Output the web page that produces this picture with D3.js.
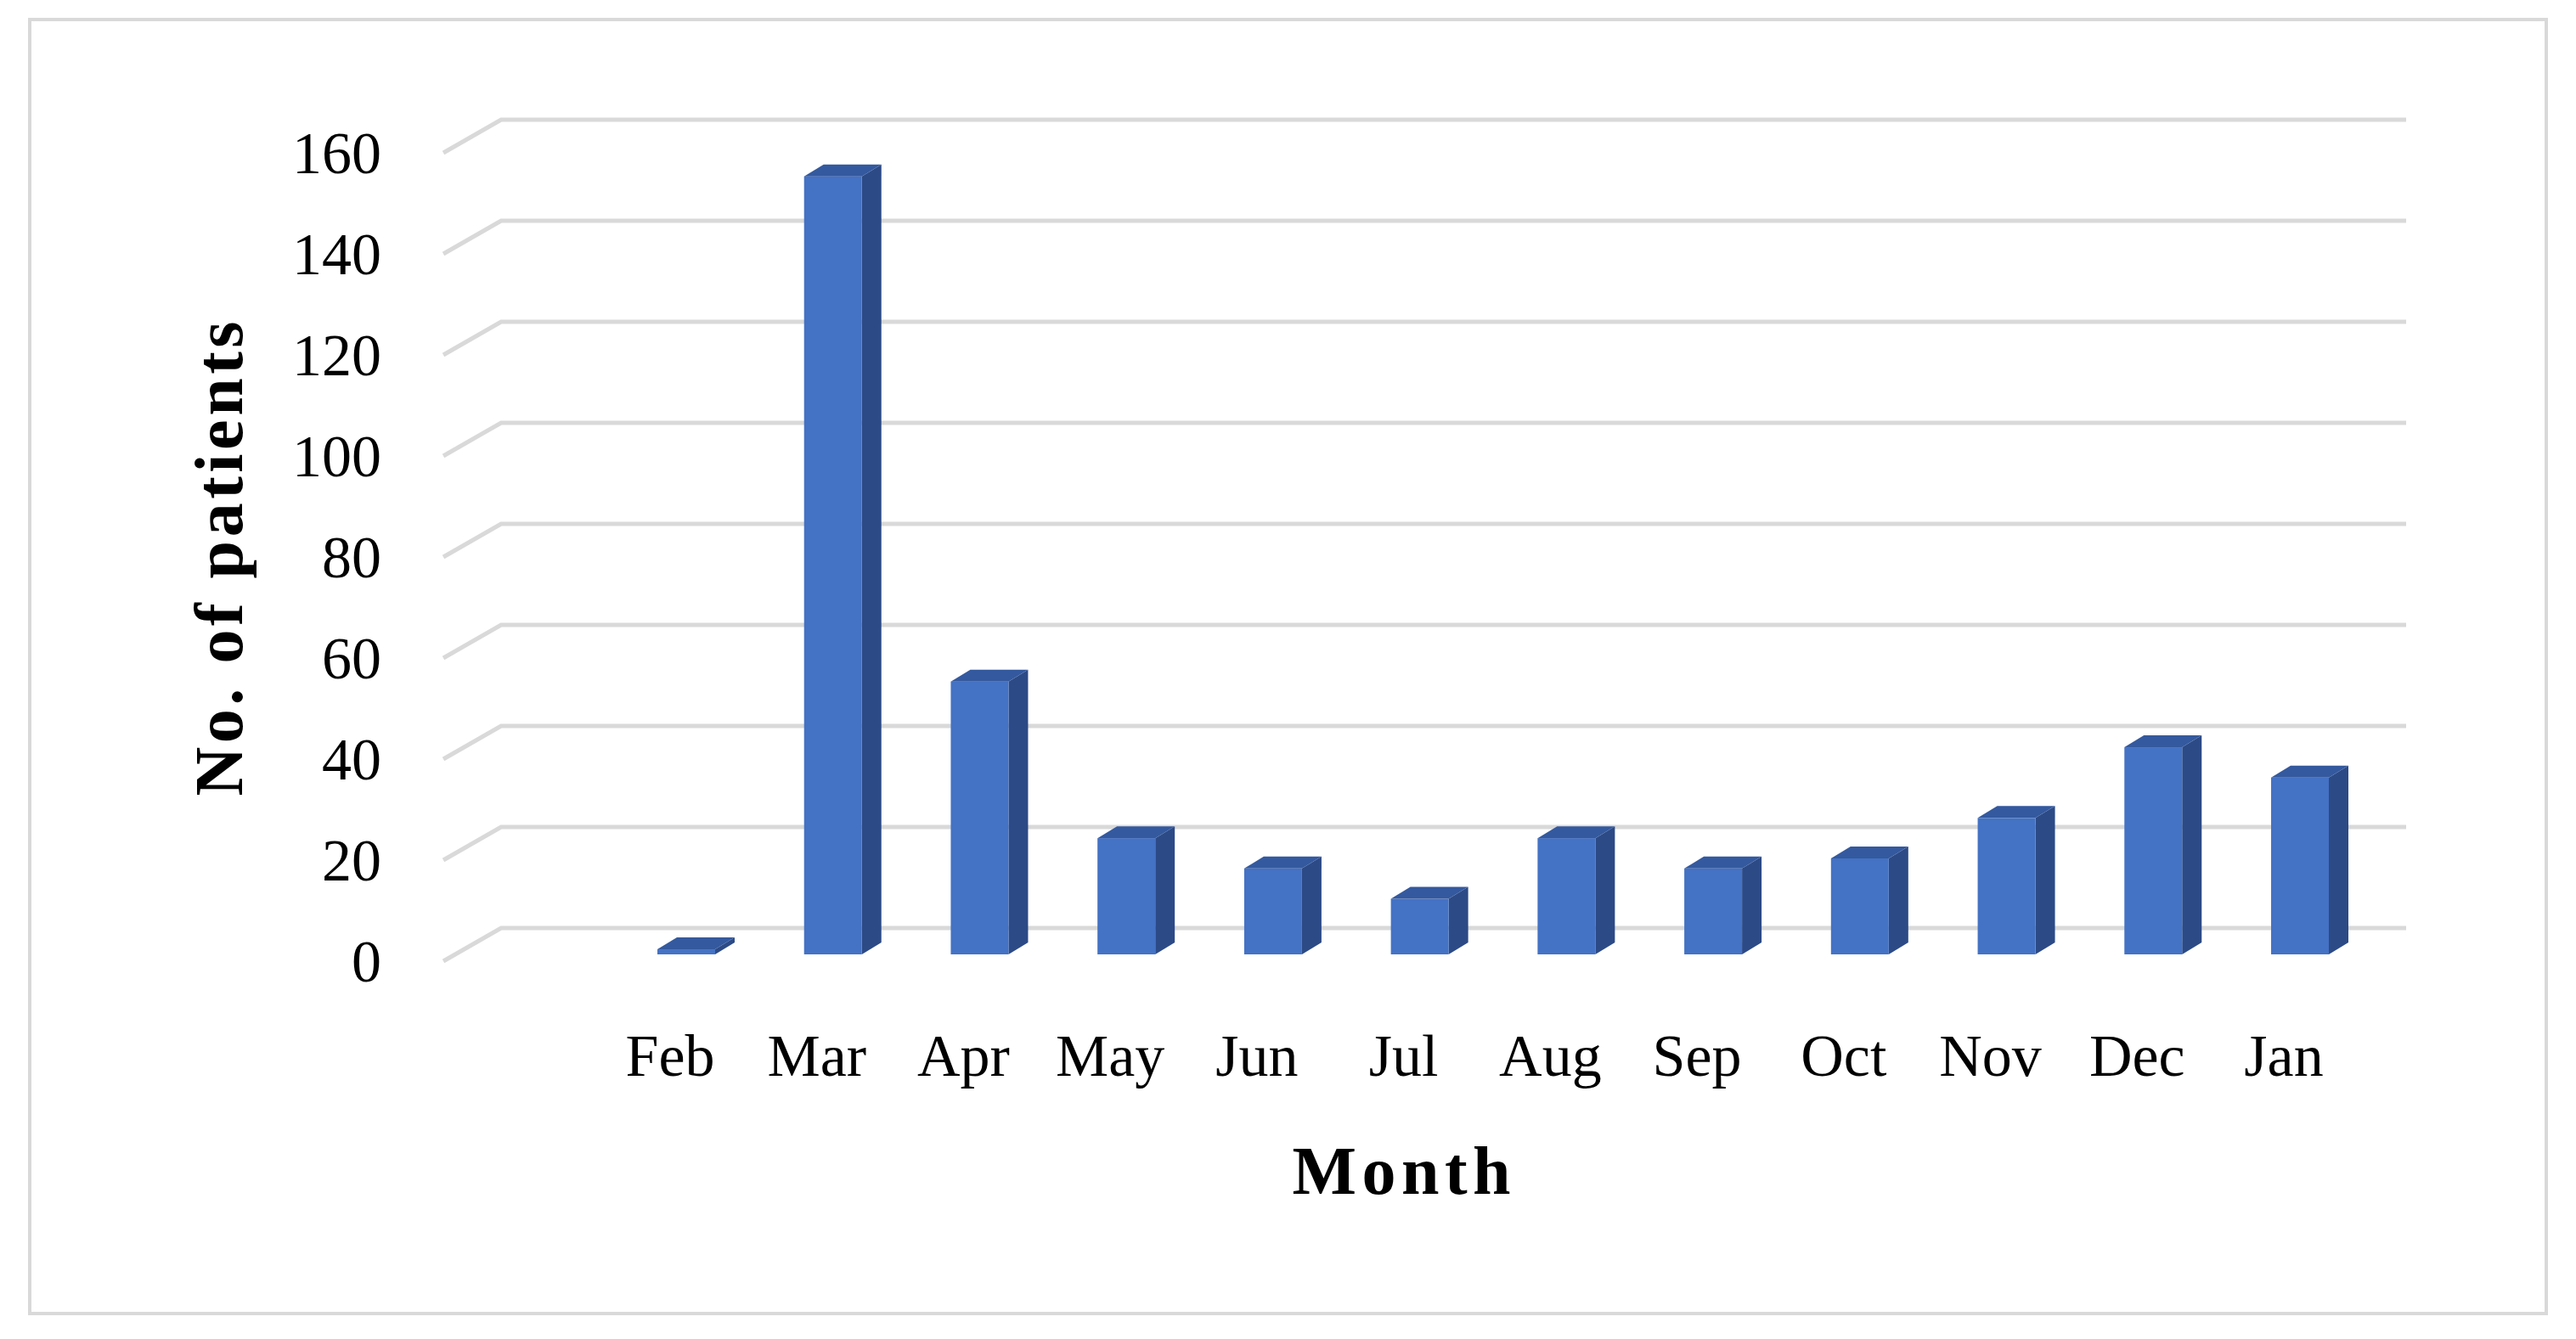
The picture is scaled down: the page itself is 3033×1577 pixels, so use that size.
<!DOCTYPE html>
<html><head><meta charset="utf-8">
<script src="https://cdn.jsdelivr.net/npm/d3@7"></script>
<style>body{margin:0;background:#fff}</style></head>
<body><svg id="c" width="3033" height="1577"></svg>
<script>
const months = ["Feb","Mar","Apr","May","Jun","Jul","Aug","Sep","Oct","Nov","Dec","Jan"];
const patients = [1,154,54,23,17,11,23,17,19,27,41,35];
const yTicks = [0,20,40,60,80,100,120,140,160];

const svg = d3.select("#c");
const font = "'Liberation Serif','DejaVu Serif',serif";
svg.append("rect").attr("x",35).attr("y",23).attr("width",2963).attr("height",1524)
  .attr("fill","#fff").attr("stroke","#d9d9d9").attr("stroke-width",4);

// grid: back wall scale
const yBack = d3.scaleLinear().domain([0,160]).range([1093,141]);
const depthX = 68, depthY = 39;
const backX0 = 590, backX1 = 2833;
const g = svg.append("g");
yTicks.forEach(t=>{
  const yb = yBack(t);
  g.append("path").attr("d",`M${backX0-depthX},${yb+depthY}L${backX0},${yb}L${backX1},${yb}`)
    .attr("fill","none").attr("stroke","#d9d9d9").attr("stroke-width",5);
  svg.append("text").attr("x",449).attr("y",yb+depthY+8).attr("text-anchor","end")
    .attr("dominant-baseline","middle").attr("font-family",font).attr("font-size",70).text(t);
});

// bars
const x = d3.scalePoint().domain(months).range([774,2674]);
const yBar = d3.scaleLinear().domain([0,160]).range([1124,172]);
const bw = 68, dx = 23, dy = 14;
months.forEach((m,i)=>{
  const x0 = x(m), y0 = yBar(patients[i]), yb = yBar(0);
  svg.append("path").attr("d",`M${x0+bw},${yb}L${x0+bw+dx},${yb-dy}L${x0+bw+dx},${y0-dy}L${x0+bw},${y0}Z`).attr("fill","#2c4a86");
  svg.append("rect").attr("x",x0).attr("y",y0).attr("width",bw).attr("height",yb-y0).attr("fill","#4472c4");
  svg.append("path").attr("d",`M${x0},${y0}L${x0+dx},${y0-dy}L${x0+bw+dx},${y0-dy}L${x0+bw},${y0}Z`).attr("fill","#34599e");
  svg.append("text").attr("x",x0+15).attr("y",1267).attr("text-anchor","middle")
    .attr("font-family",font).attr("font-size",70).text(m);
});

svg.append("text").attr("x",1650).attr("y",1406).attr("text-anchor","middle")
  .attr("font-family",font).attr("font-weight","bold").attr("font-size",80)
  .attr("textLength",257).text("Month");
svg.append("text").attr("transform","translate(285,658) rotate(-90)").attr("text-anchor","middle")
  .attr("font-family",font).attr("font-weight","bold").attr("font-size",80)
  .attr("textLength",559).text("No. of patients");
</script></body></html>
